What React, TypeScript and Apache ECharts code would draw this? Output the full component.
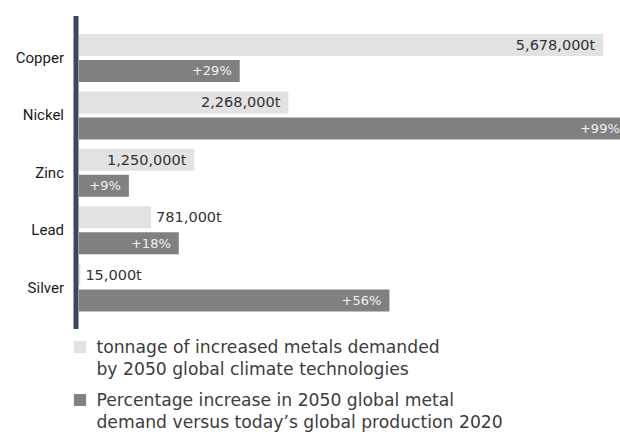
import React, { useEffect, useRef } from "react";
import * as echarts from "echarts";

const categories = ["Copper", "Nickel", "Zinc", "Lead", "Silver"];
const tonnage = [5678000, 2268000, 1250000, 781000, 15000];
const percentIncrease = [29, 99, 9, 18, 56];
const seriesNames = [
  "tonnage of increased metals demanded\nby 2050 global climate technologies",
  "Percentage increase in 2050 global metal\ndemand versus today\u2019s global production 2020",
];

const LIGHT = "#e2e2e2";
const DARK = "#808080";
const VALUE_FONT = "'DejaVu Sans', sans-serif";

export default function App() {
  const ref = useRef<HTMLDivElement>(null);
  useEffect(() => {
    if (!ref.current) return;
    const chart = echarts.init(ref.current, null, { renderer: "svg" });
    const legendText = {
      fontFamily: VALUE_FONT,
      fontSize: 17.2,
      color: "#3c3c3c",
      lineHeight: 21.5,
    };
    const legendBase = {
      left: 69,
      itemWidth: 12,
      itemHeight: 12,
      itemGap: 0,
      icon: "rect",
      selectedMode: false,
      textStyle: legendText,
      formatter: (name: string) =>
        "\n" + name.split("\n").map((line) => " " + line).join("\n"),
    };
    chart.setOption({
      animation: false,
      backgroundColor: "#ffffff",
      grid: { left: 79, right: 0, top: 29.3, bottom: 115.7, containLabel: false },
      xAxis: [
        { type: "value", min: 0, max: 5859000, show: false },
        { type: "value", min: 0, max: 97.6, show: false },
      ],
      yAxis: {
        type: "category",
        inverse: true,
        data: categories,
        axisLine: { show: false },
        axisTick: { show: false },
        splitLine: { show: false },
        axisLabel: {
          margin: 15,
          fontSize: 15,
          color: "#1a1a1a",
          fontFamily: "Roboto, sans-serif",
        },
      },
      legend: [
        { ...legendBase, data: [seriesNames[0]], top: 309.75 },
        { ...legendBase, data: [seriesNames[1]], top: 362.75 },
      ],
      series: [
        {
          name: seriesNames[0],
          type: "bar",
          xAxisIndex: 0,
          barWidth: 22,
          barGap: "18%",
          itemStyle: { color: LIGHT },
          data: tonnage.map((v) => ({
            value: v,
            label: {
              position: v > 1000000 ? "insideRight" : "right",
              distance: v > 1000000 ? 8 : 5,
            },
          })),
          label: {
            show: true,
            color: "#333333",
            fontFamily: VALUE_FONT,
            fontSize: 14.5,
            formatter: (p: any) => p.value.toLocaleString("en-US") + "t",
          },
        },
        {
          name: seriesNames[1],
          type: "bar",
          xAxisIndex: 1,
          barWidth: 22,
          barGap: "18%",
          clip: false,
          itemStyle: { color: DARK },
          data: percentIncrease,
          label: {
            show: true,
            position: "insideRight",
            distance: 8,
            color: "#f2f2f2",
            fontFamily: VALUE_FONT,
            fontSize: 13,
            formatter: (p: any) => "+" + p.value + "%",
          },
        },
      ],
      graphic: [
        {
          type: "rect",
          shape: { x: 73.5, y: 16, width: 5, height: 313 },
          style: { fill: "#3b4566" },
          silent: true,
        },
      ],
    });
    return () => chart.dispose();
  }, []);
  return (
    <div
      ref={ref}
      style={{ position: "absolute", left: 0, top: 0, width: 620, height: 432 }}
    />
  );
}
